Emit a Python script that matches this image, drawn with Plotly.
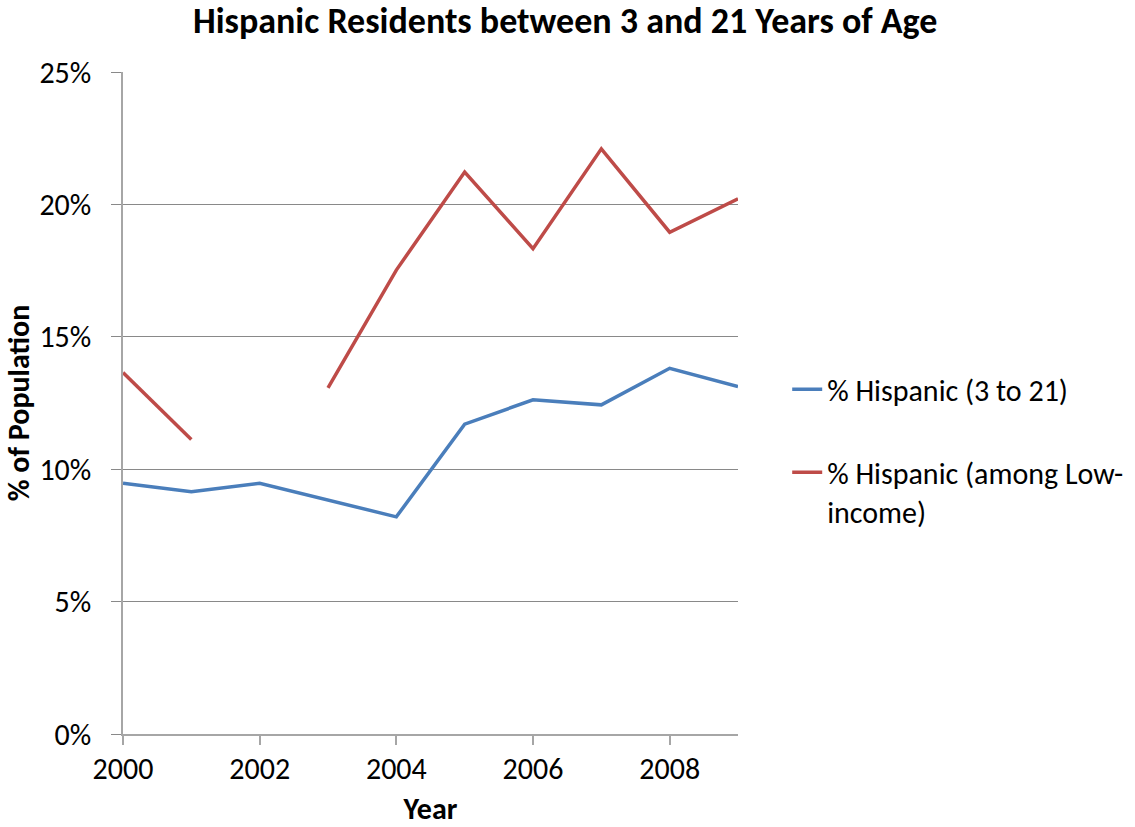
import plotly.graph_objects as go

# Survey years and the share of Hispanic residents (percent)
years = [2000, 2001, 2002, 2003, 2004, 2005, 2006, 2007, 2008, 2009]
hispanic_3_to_21 = [9.47, 9.15, 9.47, 8.85, 8.2, 11.7, 12.62, 12.43, 13.81, 13.12]
hispanic_low_income = [13.65, 11.12, None, 13.07, 17.52, 21.22, 18.33, 22.1, 18.95, 20.21]

series_names = ["% Hispanic (3 to 21)", "% Hispanic (among Low-<br>income)"]
series_colors = ["#4A7EBB", "#BE4B48"]
y_ticks = [0, 5, 10, 15, 20, 25]
y_tick_text = [f"{t}%" for t in y_ticks]
x_ticks = [2000, 2002, 2004, 2006, 2008]

FONT = "Carlito, Calibri, Lato, sans-serif"

fig = go.Figure()
for name, values, color, group in zip(series_names,
                                      [hispanic_3_to_21, hispanic_low_income],
                                      series_colors, ["a", "b"]):
    fig.add_trace(go.Scatter(
        x=years, y=values, name=name, mode="lines",
        line=dict(color=color, width=3.5),
        connectgaps=False, legendgroup=group,
    ))

fig.update_layout(
    width=1135, height=827,
    margin=dict(l=123, r=397, t=72, b=93, autoexpand=False),
    paper_bgcolor="white", plot_bgcolor="white",
    font=dict(family=FONT, size=30, color="black"),
    title=dict(text="<b>Hispanic Residents between 3 and 21 Years of Age</b>",
               x=0.498, xanchor="center", y=0.975, yanchor="middle",
               font=dict(size=36, family=FONT)),
    legend=dict(x=1.08, xanchor="left", y=0.56, yanchor="top",
                font=dict(size=30, family=FONT), valign="top",
                traceorder="grouped", tracegroupgap=41,
                itemwidth=30, bgcolor="rgba(0,0,0,0)"),
    showlegend=True,
)

fig.update_xaxes(
    range=[2000, 2009], tickvals=x_ticks, ticktext=[str(t) for t in x_ticks],
    showgrid=False, showline=True, linecolor="#A6A6A6", linewidth=1.5,
    ticks="outside", ticklen=9, tickcolor="#A6A6A6", tickwidth=1.5,
    ticklabelstandoff=-2, automargin=False,
    tickfont=dict(size=30), zeroline=False,
    title=dict(text="<b>Year</b>", font=dict(size=30), standoff=19),
)
fig.update_yaxes(
    range=[0, 25], tickvals=y_ticks, ticktext=y_tick_text,
    showgrid=True, gridcolor="#898989", gridwidth=1,
    showline=True, linecolor="#A6A6A6", linewidth=1.5,
    ticks="outside", ticklen=10, tickcolor="#898989", tickwidth=1,
    ticklabelstandoff=14, automargin=False,
    tickfont=dict(size=30), zeroline=False,
    title=dict(text="<b>% of Population</b>", font=dict(size=30), standoff=13),
)

fig.write_html("out.html")
